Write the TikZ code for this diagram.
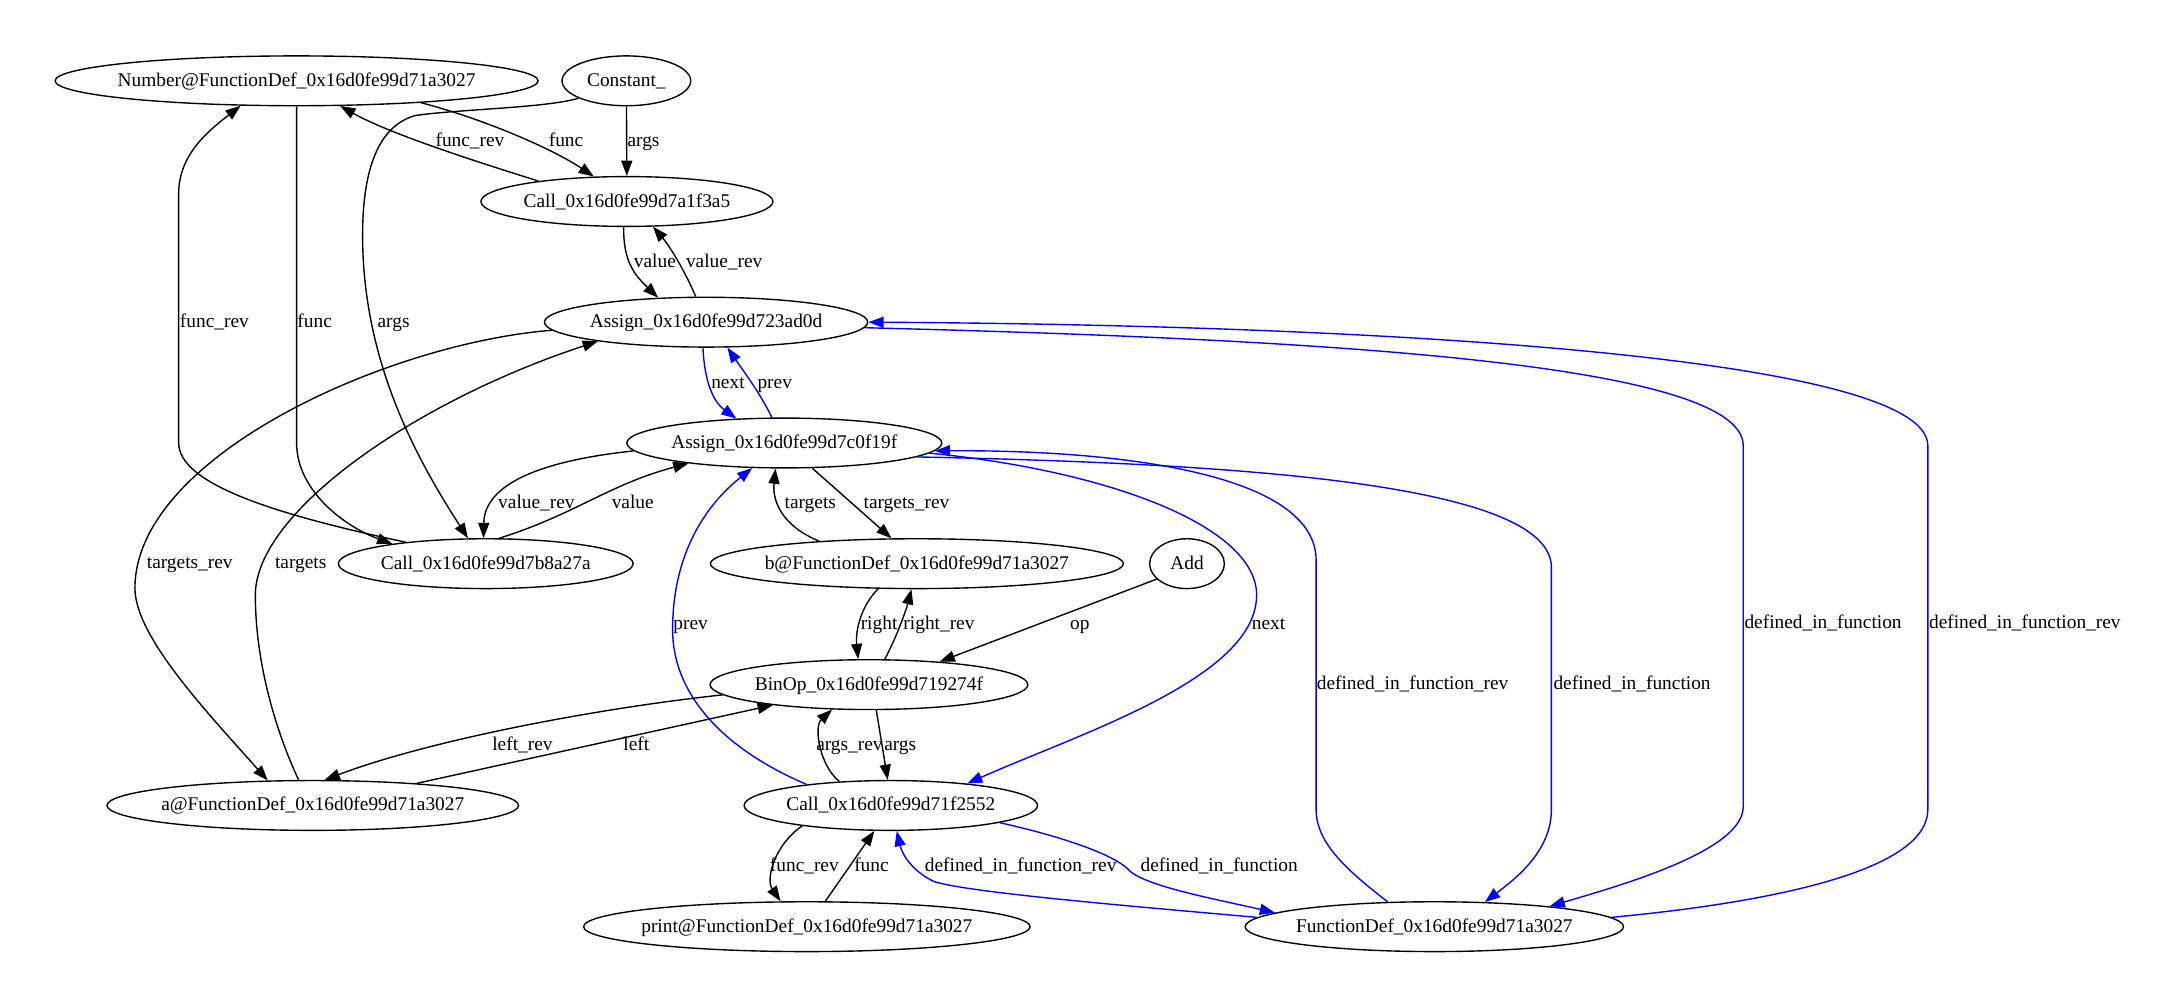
\documentclass[tikz,border=0pt]{standalone}
\usepackage{fontspec}
\setmainfont{Liberation Serif}
\usetikzlibrary{shapes.geometric, arrows.meta}

\begin{document}
\begin{tikzpicture}[x=1pt, y=-1pt, font=\fontsize{14pt}{16pt}\selectfont,
	gvnode/.style={draw, ellipse, line width=1pt, minimum height=36pt, inner sep=0pt, text height=10pt, text depth=2pt},
	gvedge/.style={line width=1pt, -{Triangle[length=11pt, width=8pt]}},
	gvblue/.style={gvedge, blue},
	gvlabel/.style={inner sep=0pt, text height=10pt, text depth=2pt}]
		\useasboundingbox (0,0) rectangle (1568,727);
		% nodes
		\node [gvnode, minimum width=349pt] (numdef) at (214.3,58.4) {\makebox[0pt]{Number@FunctionDef\_0x16d0fe99d71a3027}};
		\node [gvnode, minimum width=93pt] (const) at (452.6,58.4) {\makebox[0pt]{Constant\_}};
		\node [gvnode, minimum width=211pt] (callA) at (453,145.6) {\makebox[0pt]{Call\_0x16d0fe99d7a1f3a5}};
		\node [gvnode, minimum width=233.6pt] (asgA) at (510.2,232.8) {\makebox[0pt]{Assign\_0x16d0fe99d723ad0d}};
		\node [gvnode, minimum width=227.6pt] (asgB) at (566.7,320.1) {\makebox[0pt]{Assign\_0x16d0fe99d7c0f19f}};
		\node [gvnode, minimum width=213pt] (callB) at (351,407.3) {\makebox[0pt]{Call\_0x16d0fe99d7b8a27a}};
		\node [gvnode, minimum width=298.4pt] (bdef) at (662.5,407.3) {\makebox[0pt]{b@FunctionDef\_0x16d0fe99d71a3027}};
		\node [gvnode, minimum width=54pt] (add) at (857.7,407.3) {\makebox[0pt]{Add}};
		\node [gvnode, minimum width=229.6pt] (binop) at (627.9,494.7) {\makebox[0pt]{BinOp\_0x16d0fe99d719274f}};
		\node [gvnode, minimum width=297.4pt] (adef) at (226,582) {\makebox[0pt]{a@FunctionDef\_0x16d0fe99d71a3027}};
		\node [gvnode, minimum width=212pt] (callC) at (643.7,582) {\makebox[0pt]{Call\_0x16d0fe99d71f2552}};
		\node [gvnode, minimum width=322.6pt] (printdef) at (583,669.6) {\makebox[0pt]{print@FunctionDef\_0x16d0fe99d71a3027}};
		\node [gvnode, minimum width=273.4pt] (fdef) at (1036.4,669.6) {\makebox[0pt]{FunctionDef\_0x16d0fe99d71a3027}};
		% black edges
		\path [draw, gvedge] (numdef.350) .. controls (350,86) and (400,108) .. (callA.143);
		\path [draw, gvedge] (callA.167) .. controls (348,118) and (282,97) .. (numdef.330);
		\path [draw, gvedge] (const) -- (callA);
		\path [draw, gvedge] (const.200) .. controls (395,78) and (330,79) .. (300,83.5) .. controls (270,92) and (262,130) .. (262,170) .. controls (262,260) and (300,330) .. (callB.125);
		\path [draw, gvedge] (numdef.south) -- (214.3,320) .. controls (214.3,355) and (250,381) .. (callB.168);
		\path [draw, gvedge] (callB.165) .. controls (200,372) and (129.1,350) .. (129.1,320) -- (129.1,140) .. controls (129.1,112) and (150,95) .. (numdef.204);
		\path [draw, gvedge] (callA.263) .. controls (450,190) and (460,200) .. (asgA.153);
		\path [draw, gvedge] (asgA.112) .. controls (495,196) and (484,178) .. (callA.316);
		\path [draw, gvedge] (asgA.183.4) .. controls (280,248) and (97.5,330) .. (97.5,425) .. controls (97.5,460) and (150,515) .. (adef.151.5);
		\path [draw, gvedge] (adef.119) .. controls (200,530) and (184.5,480) .. (184.5,430) .. controls (184.5,370) and (300,290) .. (asgA.190.4);
		\path [draw, gvedge] (asgB.183.4) .. controls (390,333) and (350,350) .. (callB.95);
		\path [draw, gvedge] (callB.62.7) .. controls (415,372) and (440,350) .. (asgB.192.6);
		\path [draw, gvedge] (bdef.167.7) .. controls (565,380) and (558,362) .. (asgB.251.8);
		\path [draw, gvedge] (asgB.318.3) -- (bdef.135.4);
		\path [draw, gvedge] (bdef.213.8) .. controls (622,438) and (618,456) .. (binop.113);
		\path [draw, gvedge] (binop.58.5) .. controls (648,460) and (655,440) .. (bdef.258.4);
		\path [draw, gvedge] (add.207.2) -- (binop.18.4);
		\path [draw, gvedge] (binop.184.4) .. controls (430,512) and (310,535) .. (adef.65.7);
		\path [draw, gvedge] (adef.12.3) -- (binop.192.4);
		\path [draw, gvedge] (binop.286.1) -- (callC.97.6);
		\path [draw, gvedge] (callC.155.3) .. controls (592,553) and (588,525) .. (binop.214.3);
		\path [draw, gvedge] (callC.193.7) .. controls (560,610) and (553,635) .. (printdef.136);
		\path [draw, gvedge] (printdef.54.6) -- (callC.237.5);
		% blue edges
		\path [draw, gvblue] (asgA.263.7) .. controls (509,275) and (515,290) .. (asgB.153.5);
		\path [draw, gvblue] (asgB.116.6) .. controls (550,285) and (535,265) .. (asgA.310);
		\path [draw, gvblue] (callC.166.3) .. controls (520,540) and (486,500) .. (486,455) .. controls (486,400) and (510,365) .. (asgB.218.4);
		\path [draw, gvblue] (asgB.356) .. controls (800,340) and (908,380) .. (908,430) .. controls (908,490) and (780,530) .. (callC.16.6);
		\path [draw, gvblue] (asgB.354.5) .. controls (900,335) and (1121,350) .. (1121,410) -- (1121,585) .. controls (1121,615) and (1095,635) .. (fdef.26.9);
		\path [draw, gvblue] (fdef.152.9) .. controls (975,630) and (951,610) .. (951,585) -- (951,405) .. controls (951,340) and (800,325) .. (asgB.357.7);
		\path [draw, gvblue] (asgA.358.4) .. controls (950,245) and (1259.6,262) .. (1259.6,322) -- (1259.6,583) .. controls (1259.6,615) and (1170,640) .. (fdef.10.6);
		\path [draw, gvblue] (fdef.3.4) .. controls (1300,650) and (1393,625) .. (1393,585) -- (1393,322) .. controls (1393,258) and (1000,235) .. (asgA.east);
		\path [draw, gvblue] (callC.351) .. controls (770,605) and (805,618) .. (815,628) .. controls (825,640) and (880,650) .. (fdef.175.2);
		\path [draw, gvblue] (fdef.177.7) .. controls (820,655) and (700,645) .. (675,637) .. controls (660,630) and (652,618) .. (callC.283);
		% edge labels
		\node [gvlabel] (funcrevAlabel) at (339.6,101.9) {func\_rev};
		\node [gvlabel] (funcAlabel) at (409,101.9) {func};
		\node [gvlabel] (argsAlabel) at (465,101.9) {args};
		\node [gvlabel] (funcrevBlabel) at (154.9,232.5) {func\_rev};
		\node [gvlabel] (funcBlabel) at (227.4,232.5) {func};
		\node [gvlabel] (argsBlabel) at (284.4,232.5) {args};
		\node [gvlabel] (valueAlabel) at (473.2,189.1) {value};
		\node [gvlabel] (valuerevAlabel) at (523.3,189.1) {value\_rev};
		\node [gvlabel] (nextAlabel) at (526,276.4) {next};
		\node [gvlabel] (prevAlabel) at (559.8,276.4) {prev};
		\node [gvlabel] (targetsrevAlabel) at (137.1,407.1) {targets\_rev};
		\node [gvlabel] (targetsAlabel) at (217.3,407.1) {targets};
		\node [gvlabel] (valuerevBlabel) at (387.6,363.6) {value\_rev};
		\node [gvlabel] (valueBlabel) at (457.2,363.6) {value};
		\node [gvlabel] (targetsBlabel) at (585.5,363.6) {targets};
		\node [gvlabel] (targetsrevBlabel) at (655,363.6) {targets\_rev};
		\node [gvlabel] (rightlabel) at (635.2,451) {right};
		\node [gvlabel] (rightrevlabel) at (678.5,451) {right\_rev};
		\node [gvlabel] (oplabel) at (780.3,451) {op};
		\node [gvlabel] (prevBlabel) at (499,451) {prev};
		\node [gvlabel] (nextBlabel) at (916.6,451) {next};
		\node [gvlabel] (leftrevlabel) at (377.5,538.4) {left\_rev};
		\node [gvlabel] (leftlabel) at (459.8,538.4) {left};
		\node [gvlabel] (argsrevClabel) at (613.8,538.4) {args\_rev};
		\node [gvlabel] (argsClabel) at (650.5,538.4) {args};
		\node [gvlabel] (funcrevClabel) at (581.2,625.5) {func\_rev};
		\node [gvlabel] (funcClabel) at (629.7,625.5) {func};
		\node [gvlabel] (difrevClabel) at (737.5,625.5) {defined\_in\_function\_rev};
		\node [gvlabel] (difClabel) at (881,625.5) {defined\_in\_function};
		\node [gvlabel] (difrevBlabel) at (1020.7,494.3) {defined\_in\_function\_rev};
		\node [gvlabel] (difBlabel) at (1179.3,494.3) {defined\_in\_function};
		\node [gvlabel] (difAlabel) at (1317.3,450.5) {defined\_in\_function};
		\node [gvlabel] (difrevAlabel) at (1463.1,450.5) {defined\_in\_function\_rev};
	\end{tikzpicture}
\end{document}
